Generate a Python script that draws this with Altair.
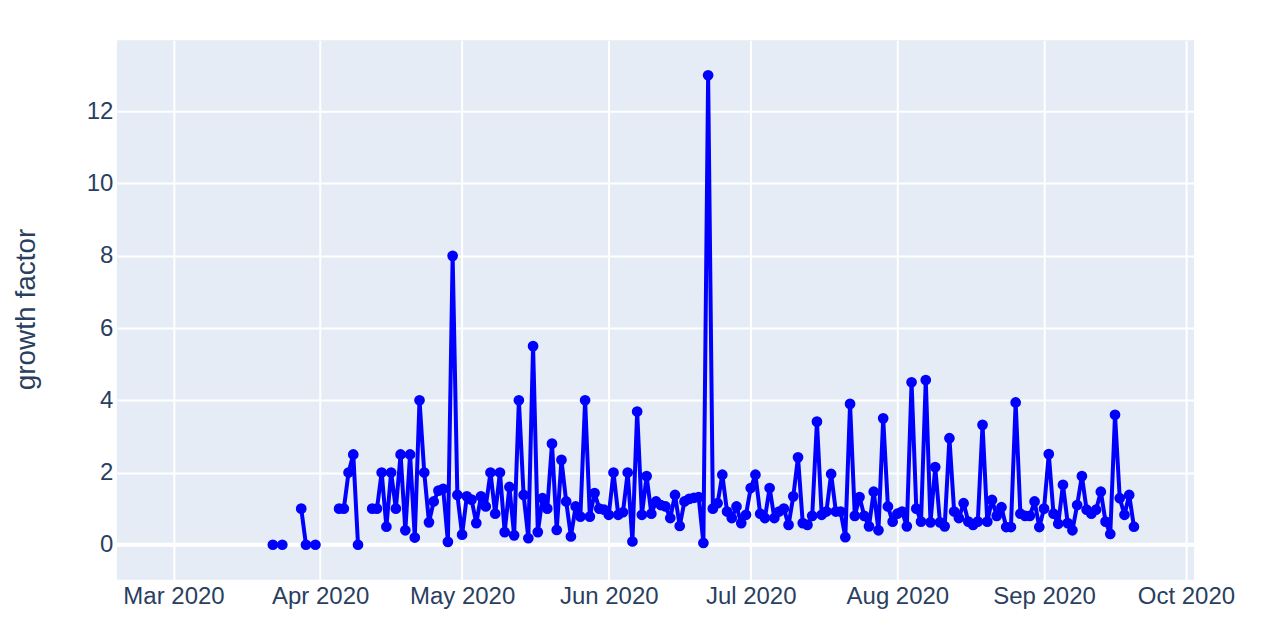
import altair as alt
import pandas as pd

# March: only the reported days (None = no value, line breaks)
mar_dates = ["2020-03-22", "2020-03-24", "2020-03-25", "2020-03-26", "2020-03-27",
             "2020-03-28", "2020-03-29", "2020-03-31"]
mar = [0, 0, None, None, None, 1.0, 0, 0]

# growth factor values, one per day from 2020-04-01 (None = no value, line breaks)
apr = [None, None, None, None, 1.0, 1.0, 2.0, 2.5, 0, None, None, 1.0, 1.0, 2.0, 0.5,
       2.0, 1.0, 2.5, 0.4, 2.5, 0.2, 4.0, 2.0, 0.62, 1.2, 1.5, 1.55, 0.08, 8.0, 1.38]
may = [0.28, 1.34, 1.25, 0.6, 1.34, 1.06, 2.0, 0.86, 2.0, 0.35, 1.6, 0.26, 4.0, 1.38, 0.18,
       5.5, 0.35, 1.29, 1.0, 2.8, 0.41, 2.35, 1.2, 0.23, 1.06, 0.78, 4.0, 0.78, 1.43, 1.0, 0.97]
jun = [0.83, 2.0, 0.83, 0.9, 2.0, 0.09, 3.69, 0.83, 1.9, 0.86, 1.2, 1.1, 1.06, 0.74, 1.38,
       0.52, 1.2, 1.27, 1.3, 1.32, 0.05, 13.0, 1.0, 1.15, 1.94, 0.92, 0.74, 1.06, 0.6, 0.83]
jul = [1.57, 1.94, 0.86, 0.74, 1.57, 0.74, 0.92, 1.0, 0.55, 1.34, 2.42, 0.6, 0.55, 0.8, 3.41,
       0.83, 0.92, 1.96, 0.92, 0.92, 0.21, 3.9, 0.8, 1.32, 0.8, 0.51, 1.47, 0.4, 3.5, 1.06, 0.64]
aug = [0.86, 0.92, 0.51, 4.5, 1.0, 0.64, 4.56, 0.62, 2.15, 0.62, 0.51, 2.95, 0.92, 0.74, 1.15,
       0.64, 0.55, 0.64, 3.32, 0.64, 1.24, 0.8, 1.04, 0.49, 0.49, 3.94, 0.86, 0.8, 0.8, 1.2, 0.49]
sep = [1.0, 2.51, 0.86, 0.58, 1.66, 0.6, 0.4, 1.1, 1.9, 0.97, 0.86, 0.97, 1.47, 0.64, 0.3,
       3.6, 1.29, 0.83, 1.38, 0.5]

daily = apr + may + jun + jul + aug + sep
daily_dates = pd.date_range("2020-04-01", periods=len(daily), freq="D")

df = pd.DataFrame({
    "date": list(pd.to_datetime(mar_dates)) + list(daily_dates),
    "gf": mar + daily,
})
df["seg"] = df["gf"].isna().cumsum()
df = df.dropna().reset_index(drop=True)

x_scale = alt.Scale(domain=[alt.DateTime(year=2020, month=2, date=18, hours=1),
                            alt.DateTime(year=2020, month=10, date=2, hours=17)])
y_scale = alt.Scale(domain=[-0.97, 13.97], nice=False, zero=False)

month_ticks = [alt.DateTime(year=2020, month=m, date=1) for m in range(3, 11)]

x_enc = alt.X("date:T", scale=x_scale,
              axis=alt.Axis(values=month_ticks, format="%b %Y", title=None,
                            labelPadding=5))
y_enc = alt.Y("gf:Q", scale=y_scale,
              axis=alt.Axis(values=[0, 2, 4, 6, 8, 10, 12], title="growth factor",
                            labelPadding=4, titleX=-76, titleY=269,
                            titleFontSize=28, titleFontWeight="normal"))

zero = alt.Chart(pd.DataFrame({"z": [0]})).mark_rule(color="white", strokeWidth=4).encode(
    y=alt.Y("z:Q", scale=y_scale))

base = alt.Chart(df)
line = base.mark_line(color="blue", strokeWidth=4, strokeJoin="round").encode(
    x=x_enc, y=y_enc, detail="seg:N")
pts = base.mark_circle(color="blue", size=115, opacity=1).encode(x=x_enc, y=y_enc)

chart = alt.layer(zero, line, pts).properties(
    width=1078, height=540,
    autosize=alt.AutoSizeParams(type="none"),
    padding={"left": 109, "top": 32, "right": 80, "bottom": 56},
    background="white",
).configure_view(fill="#E5ECF6", strokeWidth=0).configure_axis(
    grid=True, gridColor="white", gridWidth=2, domain=False, ticks=False, tickSize=0,
    labelFont="Liberation Sans", labelFontSize=24, labelColor="#2a3f5f",
    titleFont="Liberation Sans", titleColor="#2a3f5f",
)

chart.save("out.html", embed_options={"renderer": "svg", "actions": False})
